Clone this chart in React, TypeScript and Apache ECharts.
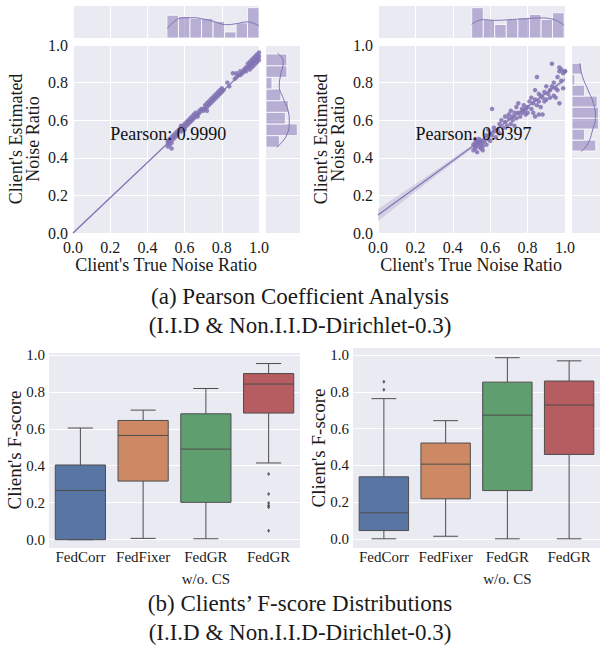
import React, { useEffect, useRef } from "react";
import * as echarts from "echarts";

// ---------- DATA ----------
// I.I.D: client's true noise ratio vs estimated noise ratio
const iidTrue = [
  0.51, 0.51, 0.52, 0.52, 0.52, 0.53, 0.53, 0.54, 0.54, 0.55, 0.55, 0.56, 0.56, 0.51, 0.53,
  0.57, 0.58, 0.58, 0.59, 0.59, 0.60, 0.60, 0.61, 0.61, 0.62, 0.62, 0.58, 0.60, 0.62,
  0.63, 0.63, 0.64, 0.64, 0.65, 0.65, 0.66, 0.66, 0.67, 0.67, 0.68, 0.68, 0.69,
  0.70, 0.70, 0.71, 0.71, 0.72, 0.72, 0.73, 0.73, 0.74, 0.74, 0.75, 0.75, 0.72,
  0.76, 0.76, 0.77, 0.77, 0.78, 0.79, 0.79, 0.80, 0.80, 0.81, 0.78,
  0.83, 0.84, 0.86, 0.87,
  0.88, 0.88, 0.89, 0.90, 0.90, 0.91, 0.92, 0.92, 0.93, 0.93,
  0.94, 0.94, 0.95, 0.95, 0.96, 0.96, 0.96, 0.97, 0.97, 0.97, 0.98, 0.98, 0.98, 0.99, 0.99, 0.99, 1.00, 1.00, 1.00, 0.95,
];
const iidEst = [
  0.46, 0.48, 0.47, 0.49, 0.50, 0.48, 0.51, 0.50, 0.52, 0.51, 0.53, 0.52, 0.54, 0.49, 0.45,
  0.55, 0.54, 0.56, 0.57, 0.55, 0.56, 0.58, 0.57, 0.59, 0.58, 0.60, 0.57, 0.55, 0.59,
  0.59, 0.61, 0.60, 0.62, 0.61, 0.63, 0.62, 0.64, 0.62, 0.63, 0.64, 0.65, 0.66,
  0.65, 0.66, 0.66, 0.68, 0.67, 0.69, 0.68, 0.70, 0.69, 0.71, 0.70, 0.72, 0.65,
  0.71, 0.73, 0.72, 0.74, 0.73, 0.74, 0.76, 0.75, 0.77, 0.76, 0.75,
  0.80, 0.78, 0.85, 0.82,
  0.83, 0.85, 0.84, 0.86, 0.84, 0.85, 0.87, 0.86, 0.88, 0.86,
  0.88, 0.90, 0.89, 0.91, 0.90, 0.88, 0.92, 0.91, 0.89, 0.93, 0.92, 0.90, 0.94, 0.93, 0.91, 0.95, 0.94, 0.92, 0.96, 0.87,
];
// Non.I.I.D-Dirichlet-0.3
const nonIidTrue = [
  0.51, 0.51, 0.52, 0.52, 0.52, 0.53, 0.53, 0.53, 0.54, 0.54, 0.54, 0.55, 0.55, 0.55, 0.56, 0.56, 0.52, 0.56,
  0.57, 0.58, 0.58, 0.59, 0.59, 0.60, 0.60, 0.61, 0.61, 0.62, 0.62,
  0.63, 0.64, 0.65, 0.65, 0.66, 0.67, 0.68, 0.68,
  0.69, 0.70, 0.70, 0.71, 0.71, 0.72, 0.72, 0.73, 0.74, 0.74, 0.73,
  0.75, 0.75, 0.76, 0.77, 0.77, 0.78, 0.78, 0.79, 0.79, 0.80, 0.80, 0.81,
  0.82, 0.82, 0.83, 0.83, 0.84, 0.84, 0.85, 0.85, 0.86, 0.86, 0.87, 0.87, 0.84, 0.86,
  0.88, 0.88, 0.89, 0.89, 0.90, 0.90, 0.91, 0.92, 0.92, 0.93, 0.93,
  0.94, 0.94, 0.95, 0.95, 0.96, 0.96, 0.97, 0.97, 0.97, 0.98, 0.98, 0.99, 0.99, 1.00, 1.00,
];
const nonIidEst = [
  0.44, 0.47, 0.46, 0.48, 0.45, 0.47, 0.49, 0.43, 0.46, 0.48, 0.50, 0.47, 0.45, 0.49, 0.46, 0.48, 0.50, 0.44,
  0.49, 0.47, 0.52, 0.50, 0.55, 0.53, 0.49, 0.66, 0.52, 0.56, 0.54,
  0.51, 0.55, 0.58, 0.53, 0.60, 0.56, 0.59, 0.62,
  0.57, 0.61, 0.63, 0.58, 0.65, 0.62, 0.60, 0.64, 0.61, 0.67, 0.57,
  0.64, 0.69, 0.62, 0.66, 0.64, 0.65, 0.68, 0.63, 0.66, 0.67, 0.64, 0.70,
  0.66, 0.72, 0.69, 0.64, 0.71, 0.76, 0.68, 0.83, 0.70, 0.63, 0.73, 0.67, 0.62, 0.74,
  0.63, 0.72, 0.70, 0.75, 0.71, 0.78, 0.74, 0.76, 0.72, 0.90, 0.78,
  0.73, 0.80, 0.77, 0.72, 0.76, 0.83, 0.88, 0.69, 0.86, 0.81, 0.87, 0.77, 0.85, 0.86, 0.86,
];

const pearsonIid = "0.9990";
const pearsonNonIid = "0.9397";

// regression fit lines and confidence bands
const regX = [0, 1];
const iidRegY = [0.0, 0.938];
const nonIidRegY = [0.096, 0.817];
const bandX = [0, 0.25, 0.5, 0.75, 1.0];
const iidBandUpper = [0.006, 0.239, 0.472, 0.706, 0.943];
const iidBandLower = [-0.006, 0.229, 0.464, 0.700, 0.933];
const nonIidBandUpper = [0.128, 0.294, 0.465, 0.643, 0.831];
const nonIidBandLower = [0.064, 0.258, 0.447, 0.631, 0.803];

// marginal histograms (bin edges and counts)
const iidTrueEdges = [0.505, 0.567, 0.629, 0.691, 0.753, 0.815, 0.877, 0.938, 1.0];
const iidTrueCounts = [15, 14, 13, 13, 11, 4, 10, 20];
const iidEstEdges = [0.456, 0.518, 0.580, 0.642, 0.704, 0.766, 0.828, 0.890, 0.952];
const iidEstCounts = [9, 21, 13, 15, 10, 4, 14, 14];
const nonIidTrueEdges = [0.501, 0.563, 0.624, 0.686, 0.748, 0.810, 0.872, 0.933, 0.995];
const nonIidTrueCounts = [18, 11, 8, 11, 12, 14, 11, 15];
const nonIidEstEdges = [0.436, 0.494, 0.553, 0.611, 0.670, 0.728, 0.786, 0.845, 0.903];
const nonIidEstCounts = [17, 9, 19, 19, 18, 9, 2, 7];

// marginal KDE curves (value, count-scaled density)
const iidTrueKde = [[0.507, 6.2], [0.548, 11.2], [0.593, 13.4], [0.647, 13.4], [0.70, 12.5], [0.754, 11.0], [0.826, 8.8], [0.88, 9.5], [0.934, 10.6], [1.0, 7.9]];
const iidEstKde = [[7.2, 0.456], [13.9, 0.521], [15.6, 0.592], [15.0, 0.645], [11.6, 0.716], [8.9, 0.787], [9.8, 0.84], [11.6, 0.911], [7.8, 0.956]];
const nonIidTrueKde = [[0.501, 8.1], [0.563, 10.9], [0.634, 10.5], [0.706, 10.9], [0.795, 11.5], [0.866, 11.9], [0.929, 11.3], [0.995, 7.5]];
const nonIidEstKde = [[6.5, 0.432], [11.4, 0.477], [14.7, 0.548], [16.7, 0.619], [15.3, 0.69], [11.4, 0.761], [7.5, 0.832], [5.5, 0.903]];

// box plots: [min, Q1, median, Q3, max]
const methods = ["FedCorr", "FedFixer", "FedGR\nw/o. CS", "FedGR"];
const iidBoxes = [
  [0.0, 0.0, 0.266, 0.404, 0.604],
  [0.007, 0.317, 0.564, 0.645, 0.701],
  [0.005, 0.202, 0.49, 0.681, 0.818],
  [0.415, 0.685, 0.842, 0.899, 0.953],
];
const iidOutliers = [[3, 0.355], [3, 0.247], [3, 0.198], [3, 0.185], [3, 0.175], [3, 0.049]];
const nonIidBoxes = [
  [0.0, 0.045, 0.142, 0.338, 0.764],
  [0.014, 0.218, 0.407, 0.522, 0.644],
  [0.0, 0.263, 0.674, 0.854, 0.987],
  [0.0, 0.46, 0.729, 0.86, 0.97],
];
const nonIidOutliers = [[0, 0.856], [0, 0.813]];

const tickValues = [0, 0.2, 0.4, 0.6, 0.8, 1.0];

// ---------- STYLE ----------
const FONT = "'Liberation Serif', 'Times New Roman', serif";
const PURPLE = "#8172B3";
const BG = "#EAEAF2";
const TXT = "#1a1a1a";
const BOX_COLORS = ["#5975a4", "#cc8963", "#5f9e6e", "#b55d60"];
const BOX_LINE = "#4d4d4d";

function zip(a: number[], b: number[]) {
  return a.map((v, i) => [v, b[i]]);
}

function histX(edges: number[], counts: number[], xi: number, yi: number) {
  return {
    type: "custom",
    xAxisIndex: xi,
    yAxisIndex: yi,
    silent: true,
    data: counts.map((c, i) => [edges[i], edges[i + 1], c]),
    renderItem: (params: any, api: any) => {
      const p0 = api.coord([api.value(0), 0]);
      const p1 = api.coord([api.value(1), api.value(2)]);
      return {
        type: "rect",
        shape: { x: p0[0], y: p1[1], width: p1[0] - p0[0], height: p0[1] - p1[1] },
        style: { fill: "rgba(129,114,179,0.5)", stroke: "#ffffff", lineWidth: 0.8 },
      };
    },
  };
}

function histY(edges: number[], counts: number[], xi: number, yi: number) {
  return {
    type: "custom",
    xAxisIndex: xi,
    yAxisIndex: yi,
    silent: true,
    data: counts.map((c, i) => [c, edges[i], edges[i + 1]]),
    renderItem: (params: any, api: any) => {
      const p0 = api.coord([0, api.value(1)]);
      const p1 = api.coord([api.value(0), api.value(2)]);
      return {
        type: "rect",
        shape: { x: p0[0], y: p1[1], width: p1[0] - p0[0], height: p0[1] - p1[1] },
        style: { fill: "rgba(129,114,179,0.5)", stroke: "#ffffff", lineWidth: 0.8 },
      };
    },
  };
}

function kde(data: number[][], xi: number, yi: number) {
  return {
    type: "line",
    xAxisIndex: xi,
    yAxisIndex: yi,
    data,
    smooth: 0.5,
    showSymbol: false,
    silent: true,
    lineStyle: { color: PURPLE, width: 1 },
  };
}

function band(upper: number[], lower: number[], xi: number, yi: number) {
  return {
    type: "custom",
    xAxisIndex: xi,
    yAxisIndex: yi,
    silent: true,
    data: [[0.5, 0.5]],
    renderItem: (params: any, api: any) => {
      const pts: number[][] = [];
      bandX.forEach((x, i) => pts.push(api.coord([x, upper[i]])));
      for (let i = bandX.length - 1; i >= 0; i--) pts.push(api.coord([bandX[i], lower[i]]));
      return { type: "polygon", shape: { points: pts }, style: { fill: "rgba(129,114,179,0.22)" } };
    },
  };
}

function pearsonText(value: string, xi: number, yi: number) {
  return {
    type: "custom",
    xAxisIndex: xi,
    yAxisIndex: yi,
    silent: true,
    z: 10,
    data: [[0.2, 0.5]],
    renderItem: (params: any, api: any) => {
      const p = api.coord([api.value(0), api.value(1)]);
      return {
        type: "text",
        x: p[0],
        y: p[1] - 5.5,
        style: { text: "Pearson: " + value, font: `18px ${FONT}`, fill: "#111", align: "left", verticalAlign: "middle" },
      };
    },
  };
}

function boxSeries(boxes: number[][], xi: number, yi: number) {
  return {
    type: "custom",
    xAxisIndex: xi,
    yAxisIndex: yi,
    silent: true,
    encode: { x: 0, y: [1, 2, 3, 4, 5] },
    data: boxes.map((b, i) => [i, ...b]),
    renderItem: (params: any, api: any) => {
      const idx = api.value(0);
      const mn = api.value(1), q1 = api.value(2), med = api.value(3), q3 = api.value(4), mx = api.value(5);
      const bw = api.size([1, 0])[0] * 0.8;
      const cx = api.coord([idx, med])[0];
      const y = (v: number) => api.coord([idx, v])[1];
      const half = bw / 2;
      const cap = bw / 4;
      const ls = { stroke: BOX_LINE, lineWidth: 1 };
      return {
        type: "group",
        children: [
          { type: "line", shape: { x1: cx, y1: y(q3), x2: cx, y2: y(mx) }, style: ls },
          { type: "line", shape: { x1: cx, y1: y(q1), x2: cx, y2: y(mn) }, style: ls },
          { type: "line", shape: { x1: cx - cap, y1: y(mx), x2: cx + cap, y2: y(mx) }, style: ls },
          { type: "line", shape: { x1: cx - cap, y1: y(mn), x2: cx + cap, y2: y(mn) }, style: ls },
          {
            type: "rect",
            shape: { x: cx - half, y: y(q3), width: bw, height: y(q1) - y(q3) },
            style: { fill: BOX_COLORS[idx], stroke: BOX_LINE, lineWidth: 1 },
          },
          { type: "line", shape: { x1: cx - half, y1: y(med), x2: cx + half, y2: y(med) }, style: ls },
        ],
      };
    },
  };
}

function outlierSeries(pts: number[][], xi: number, yi: number) {
  return {
    type: "scatter",
    xAxisIndex: xi,
    yAxisIndex: yi,
    data: pts,
    symbol: "diamond",
    symbolSize: [3, 4],
    itemStyle: { color: "#3a3a3a" },
    silent: true,
  };
}

const hiddenAxis = (gridIndex: number, min: number, max: number) => ({
  type: "value",
  gridIndex,
  min,
  max,
  axisLine: { show: false },
  axisTick: { show: false },
  axisLabel: { show: false },
  splitLine: { show: false },
});

const gridAxis = (gridIndex: number, showLabels: boolean, labelMargin: number) => ({
  type: "value",
  gridIndex,
  min: 0,
  max: 1,
  interval: 0.2,
  axisLine: { show: false },
  axisTick: { show: false },
  axisLabel: {
    show: showLabels,
    margin: labelMargin,
    formatter: (v: number) => v.toFixed(1),
    fontFamily: FONT,
    fontSize: 16,
    color: TXT,
  },
  splitLine: { show: true, lineStyle: { color: "#ffffff", width: 1 } },
});

const boxYAxis = (gridIndex: number, min: number, max: number) => ({
  type: "value",
  gridIndex,
  min,
  max,
  axisLine: { show: false },
  axisTick: { show: false, customValues: tickValues },
  axisLabel: {
    customValues: tickValues,
    margin: 4,
    formatter: (v: number) => v.toFixed(1),
    fontFamily: FONT,
    fontSize: 15,
    color: TXT,
  },
  splitLine: { show: true, lineStyle: { color: "#ffffff", width: 1 } },
});

const boxXAxis = (gridIndex: number) => ({
  type: "category",
  gridIndex,
  data: methods,
  axisLine: { show: false },
  axisTick: { show: false },
  axisLabel: { margin: -2, fontFamily: FONT, fontSize: 15, color: TXT, lineHeight: 22, interval: 0 },
  splitLine: { show: false },
});

const g = (left: number, top: number, width: number, height: number) => ({
  left,
  top,
  width,
  height,
  show: true,
  backgroundColor: BG,
  borderWidth: 0,
  containLabel: false,
});

const txt = (text: string, x: number, y: number, size: number, rotation = 0, lineHeight?: number) => ({
  type: "text",
  x,
  y,
  rotation,
  silent: true,
  style: {
    text,
    font: `${size}px ${FONT}`,
    fill: TXT,
    align: "center",
    verticalAlign: "middle",
    lineHeight: lineHeight || size * 1.15,
  },
});

export default function App() {
  const ref = useRef<HTMLDivElement>(null);
  useEffect(() => {
    if (!ref.current) return;
    const chart = echarts.init(ref.current, undefined, { renderer: "svg" });
    const option: any = {
      animation: false,
      textStyle: { fontFamily: FONT },
      grid: [
        g(73, 45, 186, 188), // 0 iid main
        g(73, 6, 186, 32), // 1 iid top marginal
        g(266, 45, 34, 188), // 2 iid right marginal
        g(378, 45, 187, 188), // 3 non-iid main
        g(378, 6, 187, 32), // 4 non-iid top marginal
        g(572, 45, 34, 188), // 5 non-iid right marginal
        g(49, 353, 251, 195), // 6 iid box
        g(353, 348, 251, 200), // 7 non-iid box
      ],
      xAxis: [
        gridAxis(0, true, 6),
        gridAxis(1, false, 0),
        hiddenAxis(2, 0, 22.8),
        gridAxis(3, true, 6),
        gridAxis(4, false, 0),
        hiddenAxis(5, 0, 20),
        boxXAxis(6),
        boxXAxis(7),
      ],
      yAxis: [
        gridAxis(0, true, 5),
        hiddenAxis(1, 0, 21.1),
        gridAxis(2, false, 0),
        gridAxis(3, true, 5),
        hiddenAxis(4, 0, 19),
        gridAxis(5, false, 0),
        boxYAxis(6, -0.045, 1.01),
        boxYAxis(7, -0.05, 1.04),
      ],
      series: [
        // I.I.D joint plot
        band(iidBandUpper, iidBandLower, 0, 0),
        {
          type: "line",
          xAxisIndex: 0,
          yAxisIndex: 0,
          data: zip(regX, iidRegY),
          showSymbol: false,
          silent: true,
          lineStyle: { color: PURPLE, width: 1.2 },
        },
        {
          type: "scatter",
          xAxisIndex: 0,
          yAxisIndex: 0,
          data: zip(iidTrue, iidEst),
          symbolSize: 4.5,
          clip: false,
          itemStyle: { color: PURPLE, opacity: 0.85 },
          silent: true,
        },
        pearsonText(pearsonIid, 0, 0),
        histX(iidTrueEdges, iidTrueCounts, 1, 1),
        kde(iidTrueKde, 1, 1),
        histY(iidEstEdges, iidEstCounts, 2, 2),
        kde(iidEstKde, 2, 2),
        // Non-IID joint plot
        band(nonIidBandUpper, nonIidBandLower, 3, 3),
        {
          type: "line",
          xAxisIndex: 3,
          yAxisIndex: 3,
          data: zip(regX, nonIidRegY),
          showSymbol: false,
          silent: true,
          lineStyle: { color: PURPLE, width: 1.2 },
        },
        {
          type: "scatter",
          xAxisIndex: 3,
          yAxisIndex: 3,
          data: zip(nonIidTrue, nonIidEst),
          symbolSize: 4.5,
          clip: false,
          itemStyle: { color: PURPLE, opacity: 0.85 },
          silent: true,
        },
        pearsonText(pearsonNonIid, 3, 3),
        histX(nonIidTrueEdges, nonIidTrueCounts, 4, 4),
        kde(nonIidTrueKde, 4, 4),
        histY(nonIidEstEdges, nonIidEstCounts, 5, 5),
        kde(nonIidEstKde, 5, 5),
        // box plots
        boxSeries(iidBoxes, 6, 6),
        outlierSeries(iidOutliers, 6, 6),
        boxSeries(nonIidBoxes, 7, 7),
        outlierSeries(nonIidOutliers, 7, 7),
      ],
      graphic: [
        txt("Client's Estimated\nNoise Ratio", 24, 139, 18, Math.PI / 2, 17),
        txt("Client's Estimated\nNoise Ratio", 329, 139, 18, Math.PI / 2, 17),
        txt("Client's True Noise Ratio", 166, 265, 18),
        txt("Client's True Noise Ratio", 471, 265, 18),
        txt("(a) Pearson Coefficient Analysis", 300, 296, 23),
        txt("(I.I.D & Non.I.I.D-Dirichlet-0.3)", 300, 325, 23),
        txt("Client's F-score", 14, 450, 19, Math.PI / 2),
        txt("Client's F-score", 318, 448, 19, Math.PI / 2),
        txt("(b) Clients\u2019 F-score Distributions", 300, 603, 23),
        txt("(I.I.D & Non.I.I.D-Dirichlet-0.3)", 300, 632, 23),
      ],
    };
    chart.setOption(option);
    return () => chart.dispose();
  }, []);
  return (
    <div
      ref={ref}
      style={{ position: "absolute", left: 0, top: 0, width: 600, height: 646, background: "#ffffff" }}
    />
  );
}
